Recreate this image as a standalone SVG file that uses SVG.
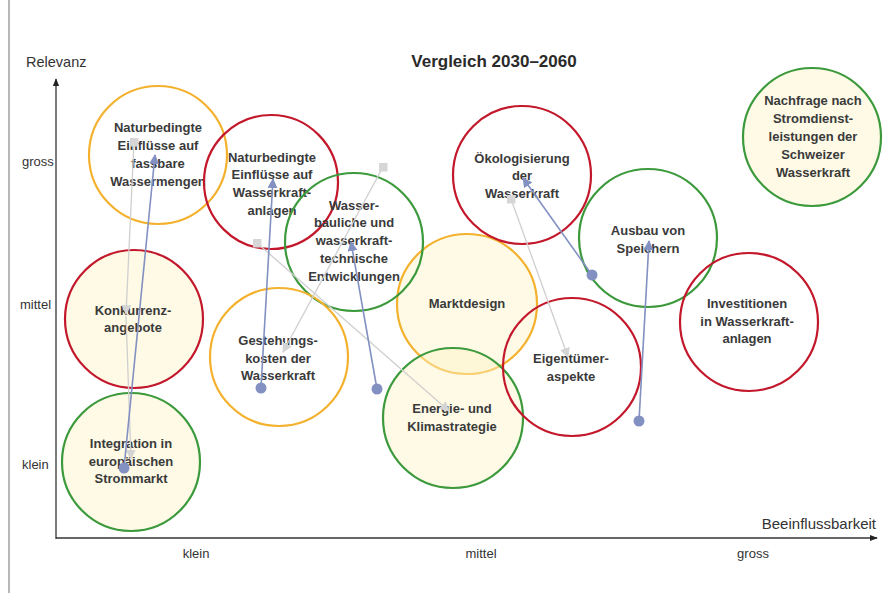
<svg xmlns="http://www.w3.org/2000/svg" width="885" height="593" viewBox="0 0 885 593">
<defs>
<style>
.c{stroke-width:2.2}
.red{stroke:#c3182b;fill:none}
.org{stroke:#f4b12e;fill:none}
.grn{stroke:#3c9a3c;fill:none}
.f{fill:#fdf5c8;fill-opacity:0.45}
.t{font-family:"Liberation Sans",Arial,sans-serif;font-size:13px;font-weight:bold;fill:#3a3a3a;text-anchor:middle}
.ax{font-family:"Liberation Sans",Arial,sans-serif;font-size:13px;fill:#333}
.bl{stroke:#8390c2;stroke-width:1.6;fill:none}
.gy{stroke:#cfcfcf;stroke-width:1.3;fill:none}
</style>
<marker id="ab" viewBox="0 0 10 10" refX="9" refY="5" markerWidth="10" markerHeight="10" markerUnits="userSpaceOnUse" orient="auto"><path d="M0,0 L10,5 L0,10 z" fill="#8390c2"/></marker>
<marker id="ag" viewBox="0 0 10 10" refX="9" refY="5" markerWidth="10" markerHeight="10" markerUnits="userSpaceOnUse" orient="auto"><path d="M0,0 L10,5 L0,10 z" fill="#d4d4d4"/></marker>
<marker id="db" viewBox="0 0 12 12" refX="6" refY="6" markerWidth="12" markerHeight="12" markerUnits="userSpaceOnUse"><circle cx="6" cy="6" r="5.5" fill="#8390c2"/></marker>
<marker id="sg" viewBox="0 0 10 10" refX="5" refY="5" markerWidth="9" markerHeight="9" markerUnits="userSpaceOnUse"><rect x="0" y="0" width="10" height="10" fill="#d6d6d6"/></marker>
<marker id="ax" viewBox="0 0 10 10" refX="9" refY="5" markerWidth="8" markerHeight="8" markerUnits="userSpaceOnUse" orient="auto"><path d="M0,1 L10,5 L0,9 z" fill="#222"/></marker>
</defs>
<rect width="885" height="593" fill="#fff"/>
<line x1="9" y1="0" x2="9" y2="593" stroke="#888" stroke-width="1.2"/>

<g id="axes">
<line x1="56" y1="539" x2="56" y2="79" stroke="#333" stroke-width="1.3" marker-end="url(#ax)"/>
<line x1="56" y1="538" x2="877" y2="538" stroke="#333" stroke-width="1.3" marker-end="url(#ax)"/>
<text class="ax" x="26" y="67" style="font-size:14.5px">Relevanz</text>
<text class="ax" x="876" y="529" text-anchor="end" style="font-size:15px">Beeinflussbarkeit</text>
<text class="ax" x="22" y="166">gross</text>
<text class="ax" x="20" y="309">mittel</text>
<text class="ax" x="22" y="469">klein</text>
<text class="ax" x="196" y="558" text-anchor="middle">klein</text>
<text class="ax" x="481" y="558" text-anchor="middle">mittel</text>
<text class="ax" x="753" y="558" text-anchor="middle">gross</text>
<text x="494" y="67" text-anchor="middle" font-family="Liberation Sans, Arial, sans-serif" font-size="17" font-weight="bold" fill="#2a2a2a">Vergleich 2030–2060</text>
</g>

<g id="n-konkurrenz"><circle class="c f red" cx="134" cy="319" r="69" style="fill:#fdf5c8"/><text class="t"><tspan x="133" y="315">Konkurrenz-</tspan><tspan x="133" y="332">angebote</tspan></text></g>
<g id="n-integration"><circle class="c f grn" cx="131" cy="462" r="69" style="fill:#fdf5c8"/><text class="t"><tspan x="131" y="448">Integration in</tspan><tspan x="131" y="466">europäischen</tspan><tspan x="131" y="483">Strommarkt</tspan></text></g>
<g id="n-markt"><circle class="c f org" cx="467" cy="304" r="70" style="fill:#fdf5c8"/><text class="t"><tspan x="467" y="308">Marktdesign</tspan></text></g>
<g id="n-energie"><circle class="c f grn" cx="453" cy="418" r="70" style="fill:#fdf5c8"/><text class="t"><tspan x="452" y="413">Energie- und</tspan><tspan x="452" y="431">Klimastrategie</tspan></text></g>
<g id="n-nachfrage"><circle class="c f grn" cx="812" cy="137" r="69" style="fill:#fdf5c8"/><text class="t"><tspan x="813" y="105">Nachfrage nach</tspan><tspan x="813" y="123">Stromdienst-</tspan><tspan x="813" y="141">leistungen der</tspan><tspan x="813" y="159">Schweizer</tspan><tspan x="813" y="177">Wasserkraft</tspan></text></g>
<g id="n-natur1"><circle class="c org" cx="158" cy="155" r="69"/><text class="t"><tspan x="158" y="132">Naturbedingte</tspan><tspan x="158" y="150">Einflüsse auf</tspan><tspan x="158" y="168">fassbare</tspan><tspan x="158" y="186">Wassermengen</tspan></text></g>
<g id="n-natur2"><circle class="c red" cx="271" cy="182" r="67"/><text class="t"><tspan x="272" y="162">Naturbedingte</tspan><tspan x="272" y="179">Einflüsse auf</tspan><tspan x="272" y="197">Wasserkraft-</tspan><tspan x="272" y="215">anlagen</tspan></text></g>
<g id="n-wasserbau"><circle class="c grn" cx="354" cy="242" r="69"/><text class="t"><tspan x="354" y="210">Wasser-</tspan><tspan x="354" y="227">bauliche und</tspan><tspan x="354" y="245">wasserkraft-</tspan><tspan x="354" y="263">technische</tspan><tspan x="354" y="281">Entwicklungen</tspan></text></g>
<g id="n-gestehung"><circle class="c org" cx="279" cy="357" r="69"/><text class="t"><tspan x="278" y="345">Gestehungs-</tspan><tspan x="278" y="363">kosten der</tspan><tspan x="278" y="380">Wasserkraft</tspan></text></g>
<g id="n-oeko"><circle class="c red" cx="522" cy="175" r="69"/><text class="t"><tspan x="522" y="163">Ökologisierung</tspan><tspan x="522" y="180">der</tspan><tspan x="522" y="198">Wasserkraft</tspan></text></g>
<g id="n-speicher"><circle class="c grn" cx="648" cy="238" r="69"/><text class="t"><tspan x="648" y="235">Ausbau von</tspan><tspan x="648" y="253">Speichern</tspan></text></g>
<g id="n-eigentum"><circle class="c red" cx="572" cy="367" r="69"/><text class="t"><tspan x="571" y="363">Eigentümer-</tspan><tspan x="571" y="381">aspekte</tspan></text></g>
<g id="n-invest"><circle class="c red" cx="749" cy="322" r="69"/><text class="t"><tspan x="747" y="308">Investitionen</tspan><tspan x="747" y="326">in Wasserkraft-</tspan><tspan x="747" y="343">anlagen</tspan></text></g>

<g id="connectors">
<line class="gy" x1="134" y1="142" x2="126" y2="314" marker-start="url(#sg)" marker-end="url(#ag)"/>
<line class="gy" x1="126" y1="316" x2="131" y2="459" marker-end="url(#ag)"/>
<line class="gy" x1="257" y1="243" x2="449" y2="411" marker-start="url(#sg)" marker-end="url(#ag)"/>
<line class="gy" x1="383" y1="167" x2="283" y2="352" marker-start="url(#sg)" marker-end="url(#ag)"/>
<line class="gy" x1="511" y1="199" x2="568" y2="357" marker-start="url(#sg)" marker-end="url(#ag)"/>
<line class="bl" x1="124" y1="468" x2="155" y2="155" marker-start="url(#db)" marker-end="url(#ab)"/>
<line class="bl" x1="261" y1="388" x2="273" y2="179" marker-start="url(#db)" marker-end="url(#ab)"/>
<line class="bl" x1="377" y1="389" x2="351" y2="242" marker-start="url(#db)" marker-end="url(#ab)"/>
<line class="bl" x1="592" y1="275" x2="523" y2="178" marker-start="url(#db)" marker-end="url(#ab)"/>
<line class="bl" x1="639" y1="421" x2="649" y2="241" marker-start="url(#db)" marker-end="url(#ab)"/>
</g>
</svg>
